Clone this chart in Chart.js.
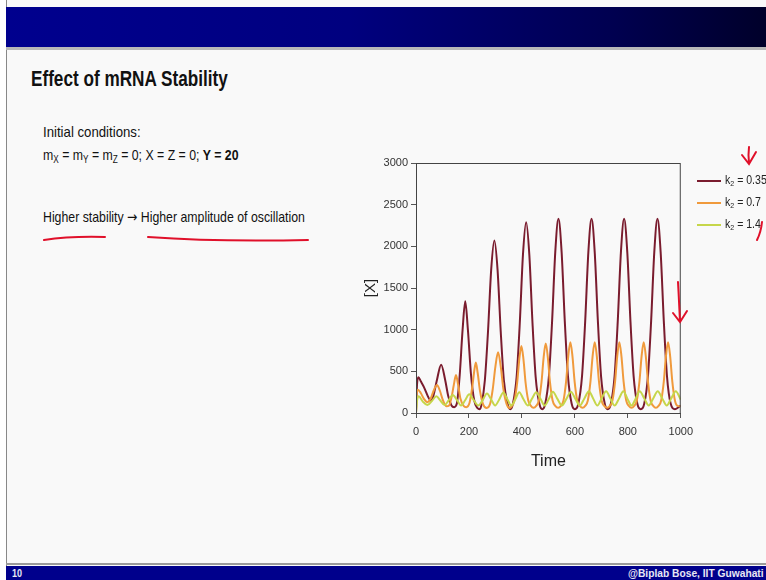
<!DOCTYPE html>
<html>
<head>
<meta charset="utf-8">
<script src="https://cdn.jsdelivr.net/npm/chart.js@4.4.1/dist/chart.umd.min.js"></script>
<style>
  html, body { margin: 0; padding: 0; }
  body { width: 766px; height: 580px; overflow: hidden; position: relative; background: #fff;
         font-family: "Liberation Sans", Arial, sans-serif; }
  .slide { position: absolute; left: 6px; top: 0; width: 760px; height: 580px; background: #f9f9f9;
           border-left: 1px solid #888; }
  .topbar { position: absolute; left: 6px; top: 7px; width: 760px; height: 40px;
            background: linear-gradient(to right, #00008e 0%, #00007f 45%, #000050 80%, #00002a 100%); }
  .shadow { position: absolute; left: 6px; top: 47px; width: 760px; height: 3px; background: #b8b8b8; }
  .bottombar { position: absolute; left: 6px; top: 566px; width: 760px; height: 14px; background: #00008c;
               color: #e8e8f4; font-size: 11px; font-weight: bold; line-height: 14px; overflow: hidden; }
  .bottomline { position: absolute; left: 6px; top: 563px; width: 760px; height: 2px; background: #9a9a9a; }
  .narrow { transform: scaleX(0.82); transform-origin: 0 0; white-space: nowrap; }
  .title { position: absolute; left: 31px; top: 66px; font-size: 22px; font-weight: bold; color: #111; }
  .txt { position: absolute; left: 43px; font-size: 15px; color: #111; }
  .arrow { font-family: "DejaVu Sans", sans-serif; font-size: 15px; }
  sub { font-size: 10px; vertical-align: -3px; }
  #chartBox { position: absolute; left: 355px; top: 150px; width: 345px; height: 330px; }
  .legend { position: absolute; left: 697px; top: 171px; font-size: 12px; color: #222; white-space: nowrap; }
  .legend div { height: 22px; line-height: 18px; }
  .legend span.sw { display: inline-block; width: 24px; height: 2px; vertical-align: middle; margin-right: 4px; }
  .legend span.lt { display: inline-block; transform: scaleX(0.88); transform-origin: 0 50%; }
  svg.ink { position: absolute; left: 0; top: 0; }
</style>
</head>
<body>
<div class="slide"></div>
<div class="topbar"></div>
<div class="shadow"></div>
<div class="title narrow" style="transform:scaleX(0.78)">Effect of mRNA Stability</div>
<div class="txt narrow" style="top:123px;transform:scaleX(0.88)">Initial conditions:</div>
<div class="txt narrow" style="top:146px">m<sub>X</sub> = m<sub>Y</sub> = m<sub>Z</sub> = 0; X = Z = 0; <b>Y = 20</b></div>
<div class="txt narrow" style="top:208px">Higher stability <span class="arrow">&#8594;</span> Higher amplitude of oscillation</div>
<div id="chartBox"><canvas id="chart"></canvas></div>
<div class="legend" id="legend"></div>
<div class="bottomline"></div>
<div class="bottombar"><span class="narrow" style="position:absolute;left:6px">10</span><span class="narrow" style="position:absolute;left:622px;transform:scaleX(0.93)">@Biplab Bose, IIT Guwahati</span></div>
<svg class="ink" width="766" height="580">
  <g fill="none" stroke="#e0102a" stroke-width="2" stroke-linecap="round">
    <path d="M44,240 Q70,236 105,237"/>
    <path d="M148,237 Q220,242 308,240"/>
    <path d="M749,147 Q748,155 749,163 M742,155 L749,164 L756,152"/>
    <path d="M762,222 Q761,232 757,240"/>
    <path d="M678,282 Q679,300 680,322 M673,313 L680,322 L687,311"/>
  </g>
</svg>
<script>
// k2 = 0.35
const timeK035 = [0, 4, 9, 18, 30, 45, 55, 65, 78, 95, 110, 122, 134, 144, 154, 165, 176, 186, 196, 208, 220, 232, 241,
  248, 260, 272, 284, 296, 308, 320, 332, 346, 356,
  366, 380, 392, 404, 416, 428, 440, 452, 466, 477,
  488, 502, 514, 526, 538, 550, 562, 574, 588, 600,
  613, 627, 639, 651, 663, 675, 687, 699, 713, 724,
  736, 750, 762, 774, 786, 798, 810, 822, 836, 849,
  862, 876, 888, 900, 912, 924, 936, 948, 962, 978, 1000]
const valsK035 = [0, 350, 430, 380, 310, 200, 150, 200, 380, 580, 400, 200, 90, 70, 110, 450, 1000, 1340, 1000, 450, 150, 60, 45,
  110, 390, 980, 1720, 2070, 1720, 980, 390, 110, 45,
  110, 430, 1080, 1900, 2290, 1900, 1080, 430, 110, 45,
  110, 440, 1100, 1930, 2330, 1930, 1100, 440, 110, 45,
  110, 440, 1100, 1930, 2330, 1930, 1100, 440, 110, 45,
  110, 440, 1100, 1930, 2330, 1930, 1100, 440, 110, 45,
  110, 440, 1100, 1930, 2330, 1930, 1100, 440, 110, 45, 90]

// k2 = 0.7
const timeK07 = [0, 3, 7, 18, 30, 43, 55, 67, 79, 90, 102, 115, 125, 135, 143, 151, 159, 168, 180, 190,
  202, 212, 219, 226, 233, 242, 254, 267, 280, 290, 300, 310, 320, 330, 342, 354,
  362, 372, 382, 390, 398, 406, 414, 424, 434, 444,
  454, 464, 474, 482, 490, 498, 506, 516, 526, 537,
  547, 557, 567, 575, 583, 591, 599, 609, 619, 629,
  639, 649, 659, 667, 675, 683, 691, 701, 711, 722,
  732, 742, 752, 760, 768, 776, 784, 794, 804, 814,
  824, 834, 844, 852, 860, 868, 876, 886, 896, 906,
  916, 926, 936, 944, 952, 960, 968, 978, 988, 1000]
const valsK07 = [0, 240, 280, 240, 170, 130, 170, 270, 335, 270, 150, 80, 90, 200, 340, 455, 340, 170, 85, 70,
  120, 300, 480, 605, 480, 260, 100, 60, 110, 290, 560, 730, 560, 290, 110, 60,
  85, 150, 360, 640, 805, 640, 360, 150, 85, 62,
  85, 150, 370, 665, 835, 665, 370, 150, 85, 62,
  85, 150, 380, 680, 850, 680, 380, 150, 85, 62,
  85, 150, 380, 680, 850, 680, 380, 150, 85, 62,
  85, 150, 380, 680, 850, 680, 380, 150, 85, 62,
  85, 150, 380, 680, 850, 680, 380, 150, 85, 62,
  85, 150, 380, 680, 850, 680, 380, 150, 85, 80]

// k2 = 1.4
const timeK14 = [0, 4, 10, 25, 43, 60, 77, 92, 108, 123, 139, 155, 170, 185, 201, 218, 235, 252, 268, 284, 299,
  314, 330, 345, 360, 375, 390, 406, 422, 438, 454, 470, 486, 502, 517, 534, 551, 568, 585, 602, 619,
  636, 653, 669, 685, 701, 718, 734, 750, 767, 783, 798, 814, 830, 845, 862, 879, 896, 913, 930, 947, 964, 981, 1000]
const valsK14 = [0, 150, 200, 140, 95, 145, 200, 150, 95, 150, 215, 155, 90, 150, 225, 155, 90, 155, 235, 160, 90,
  160, 245, 165, 90, 165, 250, 165, 90, 170, 250, 170, 90, 170, 255, 170, 90, 170, 255, 170, 90,
  175, 260, 175, 90, 175, 260, 175, 90, 175, 260, 175, 90, 175, 260, 175, 90, 175, 260, 175, 90, 175, 260, 160]

const seriesLabels = ['k\u2082 = 0.35', 'k\u2082 = 0.7', 'k\u2082 = 1.4']
const seriesColors = ['#7a1c2e', '#f09a3c', '#c6d64a']
const xTicks = [0, 200, 400, 600, 800, 1000]
const yTicks = [0, 500, 1000, 1500, 2000, 2500, 3000]

function pairs(ts, vs) {
  return ts.map((t, i) => ({ x: t, y: vs[i] }))
}

const allData = [pairs(timeK035, valsK035), pairs(timeK07, valsK07), pairs(timeK14, valsK14)]

// legend (html so the subscript looks right)
const legendEl = document.getElementById('legend')
seriesLabels.forEach((lab, i) => {
  const row = document.createElement('div')
  const parts = lab.split('\u2082')
  row.innerHTML = '<span class="sw" style="background:' + seriesColors[i] + '"></span><span class="lt">k<sub style="font-size:8px;vertical-align:-2px">2</sub>' + parts[1] + '</span>'
  legendEl.appendChild(row)
})

const boxPlugin = {
  id: 'box',
  afterDraw(chart) {
    const { ctx, chartArea: a } = chart
    ctx.save()
    ctx.strokeStyle = '#444'
    ctx.lineWidth = 1
    ctx.strokeRect(a.left + 0.5, a.top + 0.5, a.right - a.left - 1, a.bottom - a.top)
    ctx.restore()
  }
}

const tickFont = { family: '"Liberation Sans", Arial, sans-serif', size: 11 }

new Chart(document.getElementById('chart'), {
  type: 'line',
  data: {
    datasets: allData.map((d, i) => ({
      label: seriesLabels[i],
      data: d,
      borderColor: seriesColors[i],
      borderWidth: 2,
      pointRadius: 0,
      cubicInterpolationMode: 'monotone',
      fill: false
    })).reverse()
  },
  options: {
    responsive: true,
    maintainAspectRatio: false,
    animation: false,
    layout: { padding: { top: 13, right: 15, left: 0, bottom: 0 } },
    plugins: { legend: { display: false }, tooltip: { enabled: false } },
    scales: {
      x: {
        type: 'linear', min: 0, max: 1000,
        afterFit: s => { s.height = 67 },
        afterBuildTicks: s => { s.ticks = xTicks.map(v => ({ value: v })) },
        ticks: { color: '#333', font: tickFont, padding: 7, maxRotation: 0, callback: v => String(v) },
        grid: { drawOnChartArea: false, drawTicks: true, tickLength: 5, color: '#555' },
        border: { color: '#444' },
        title: { display: true, text: 'Time', color: '#222', padding: { top: 0, bottom: 9 },
                 font: { family: tickFont.family, size: 16 } }
      },
      y: {
        min: 0, max: 3000,
        afterFit: s => { s.width = 61 },
        afterBuildTicks: s => { s.ticks = yTicks.map(v => ({ value: v })) },
        ticks: { color: '#333', font: tickFont, padding: 3, callback: v => String(v) },
        grid: { drawOnChartArea: false, drawTicks: true, tickLength: 5, color: '#555' },
        border: { color: '#444' },
        title: { display: true, text: '[X]', color: '#222', padding: { top: 7, bottom: 0 },
                 font: { family: tickFont.family, size: 15 } }
      }
    }
  },
  plugins: [boxPlugin]
})
</script>
</body>
</html>
